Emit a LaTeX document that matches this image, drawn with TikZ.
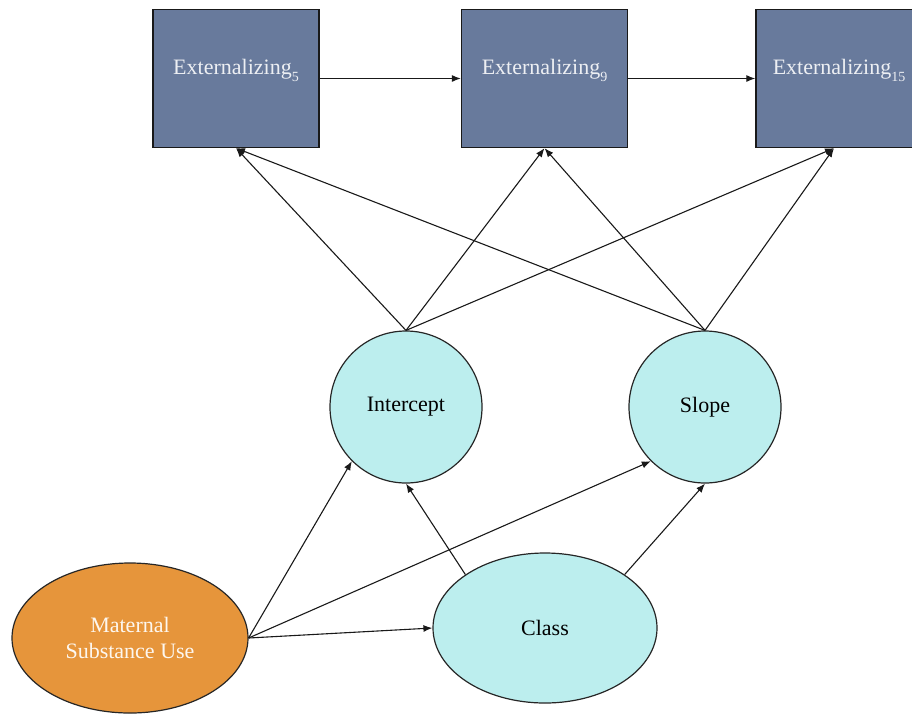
\documentclass[tikz,border=0pt]{standalone}
\usepackage{fontspec}
\setmainfont{Liberation Serif}
\usepackage{xcolor}
\usepackage{tikz}
\usetikzlibrary{arrows.meta,shapes,calc}
\definecolor{slate}{RGB}{104,122,156}
\definecolor{paleaqua}{RGB}{188,238,238}
\definecolor{amber}{RGB}{230,149,59}
\newcommand{\wavesub}[1]{\raisebox{-7pt}{\fontsize{14}{14}\selectfont #1}}
\tikzstyle{outcome}=[draw=black!90, line width=1.3pt, fill=slate, text=white!88!slate, minimum width=166, minimum height=138, inner sep=0, text height=14pt, text depth=23pt]
\tikzstyle{growth}=[circle, draw=black!85, line width=1.2pt, fill=paleaqua, minimum size=152, inner sep=0]
\tikzstyle{latent}=[ellipse, draw=black!85, line width=1.2pt, fill=paleaqua, minimum width=224, minimum height=150, inner sep=0]
\tikzstyle{exposure}=[ellipse, draw=black!85, line width=1.2pt, fill=amber, text=white!92!amber, minimum width=236, minimum height=150, inner sep=0, align=center]
\tikzstyle{link}=[line width=1.1pt, black!90, -{Latex[length=9pt,width=7pt]}]

\begin{document}
\begin{tikzpicture}[x=1pt, y=-1pt, font=\fontsize{22}{26}\selectfont]
	\useasboundingbox (0,0) rectangle (912,713);
%
	\node[outcome] (ext5) at (236,78.5) {Externalizing\wavesub{5}};
	\node[outcome] (ext9) at (544.5,78.5) {Externalizing\wavesub{9}};
	\node[outcome] (ext15) at (839,78.5) {Externalizing\wavesub{15}};
%
	\node[growth] (icept) at (406,407) {Intercept};
	\node[growth] (slope) at (705,407) {Slope};
%
	\node[latent] (class) at (545,628) {Class};
	\node[exposure] (msu) at (130,638) {Maternal\\Substance Use};
%
	\draw[link] (ext5) -- (ext9);
	\draw[link] (ext9) -- (ext15);
%
	\draw[link] (icept.north) -- (ext5.south);
	\draw[link] (icept.north) -- (ext9.south);
	\draw[link] (icept.north) -- ($(ext15.south)+(-5,0)$);
	\draw[link] (slope.north) -- (ext5.south);
	\draw[link] (slope.north) -- (ext9.south);
	\draw[link] (slope.north) -- ($(ext15.south)+(-5,0)$);
%
	\draw[link] (msu.east) -- (icept.south west);
	\draw[link] (msu.east) -- (slope.south west);
	\draw[link] (msu.east) -- (class.west);
	\draw[link] (class.north west) -- (icept.south);
	\draw[link] (class.north east) -- (slope.south);
\end{tikzpicture}
\end{document}
